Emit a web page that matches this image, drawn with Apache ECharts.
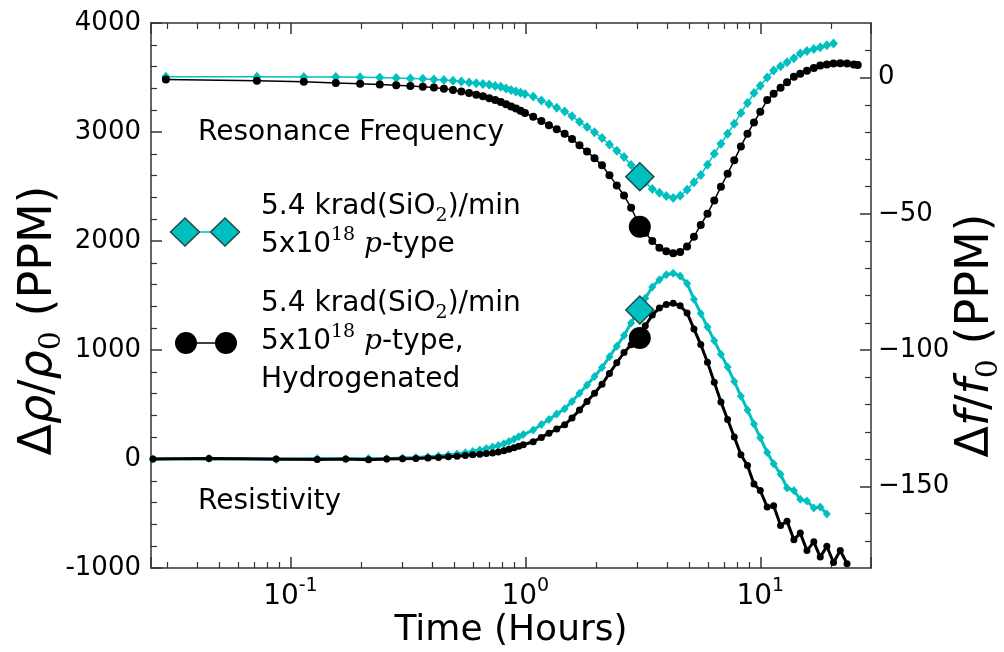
<!DOCTYPE html>
<html><head><meta charset="utf-8">
<script src="https://cdn.jsdelivr.net/npm/echarts@6/dist/echarts.min.js"></script>
<style>html,body{margin:0;padding:0;background:#fff}#c{width:1004px;height:652px}</style>
</head><body><div id="c"></div>
<script>
// ---------------- data ----------------
const freqTime = [0.0295, 0.072, 0.114, 0.156, 0.198, 0.240, 0.282, 0.324, 0.366, 0.408, 0.450, 0.492,
  0.534, 0.576, 0.618, 0.660, 0.702, 0.744, 0.786, 0.828, 0.870, 0.912, 0.954, 0.996,
  1.08, 1.17, 1.26, 1.36, 1.47, 1.58, 1.70, 1.83, 1.97, 2.12, 2.28, 2.45, 2.63, 2.82, 3.02, 3.24,
  3.47, 3.72, 3.98, 4.26, 4.56, 4.88, 5.22, 5.58, 5.96, 6.37, 6.80, 7.26, 7.75, 8.27, 8.82, 9.40,
  10.0, 10.7, 11.4, 12.2, 13.0, 13.9, 14.8, 15.8, 16.9, 18.0, 19.2, 20.5, 21.9, 23.4, 25.0, 26.0];
// Resonance frequency, 5.4 krad(SiO2)/min, p-type (right axis, PPM)
const freqCyan = [0.3, 0.3, 0.2, 0.15, 0.1, 0.0, -0.2, -0.35, -0.5, -0.7, -0.9, -1.2,
  -1.5, -1.8, -2.1, -2.4, -2.7, -3.1, -3.4, -4.0, -4.6, -5.1, -5.6, -6.1,
  -7.0, -8.4, -9.7, -11.1, -12.5, -14.2, -16.2, -18.2, -20.1, -22.2, -24.6, -26.9, -29.2, -32.1, -35.4, -38.4,
  -40.9, -42.3, -43.5, -44.2, -43.4, -41.2, -38.4, -35.8, -32.0, -28.0, -24.3, -20.6, -17.0, -13.0, -9.4, -5.7,
  -3.0, 0.0, 2.6, 4.1, 5.6, 7.1, 8.8, 9.7, 10.5, 11.1, 11.8, 12.5];
// Resonance frequency, hydrogenated (right axis, PPM)
const freqBlack = [-0.7, -1.2, -1.6, -2.0, -2.3, -2.6, -2.85, -3.1, -3.4, -3.7, -4.1, -4.6,
  -5.1, -5.7, -6.3, -6.9, -7.6, -8.3, -9.0, -9.8, -10.6, -11.4, -12.2, -13.0,
  -14.4, -16.0, -17.5, -19.0, -20.6, -22.6, -24.9, -27.2, -29.6, -32.2, -35.9, -39.6, -43.3, -47.8, -53.2, -57.0,
  -60.0, -62.5, -63.8, -64.5, -64.0, -62.0, -58.4, -54.1, -50.0, -45.1, -40.1, -35.3, -30.4, -25.3, -20.6, -16.5,
  -12.6, -8.3, -6.0, -3.8, -1.7, 0.3, 1.4, 2.5, 3.5, 4.4, 4.8, 5.1, 5.2, 5.1, 4.8, 4.6];

const resTime = [0.026, 0.045, 0.087, 0.13, 0.172, 0.215, 0.257, 0.30, 0.342, 0.385, 0.427, 0.47,
  0.512, 0.555, 0.597, 0.64, 0.682, 0.725, 0.767, 0.81, 0.852, 0.895, 0.937, 0.98,
  1.08, 1.17, 1.26, 1.36, 1.47, 1.58, 1.70, 1.83, 1.97, 2.12, 2.28, 2.45, 2.63, 2.82, 3.02, 3.24,
  3.47, 3.72, 3.98, 4.26, 4.56, 4.88, 5.22, 5.58, 5.96, 6.37, 6.80, 7.26, 7.75, 8.27, 8.82, 9.40,
  10.0, 10.7, 11.4, 12.2, 13.0, 13.9, 14.8, 15.8, 16.9, 18.0, 19.2, 20.5, 21.9, 23.4];
// Resistivity, 5.4 krad(SiO2)/min, p-type (left axis, PPM)
const resCyan = [0, 5, -4, 5, 0, 5, 3, 9, 14, 20, 27, 37,
  47, 58, 68, 82, 96, 110, 123, 141, 160, 182, 203, 224,
  265, 316, 363, 413, 462, 528, 603, 680, 757, 839, 939, 1035, 1133, 1248, 1363, 1474,
  1578, 1645, 1690, 1704, 1680, 1610, 1466, 1335, 1210, 1086, 962, 843, 712, 576, 450, 320,
  194, 60, -43, -140, -265, -290, -370, -385, -450, -440, -505];
// Resistivity, hydrogenated (left axis, PPM)
const resBlack = [0, 5, 0, -5, 0, -8, 0, 3, 5, 9, 14, 20,
  26, 32, 38, 44, 50, 56, 64, 75, 89, 104, 117, 131,
  158, 198, 236, 275, 314, 376, 450, 527, 603, 685, 785, 883, 977, 1048, 1120, 1222,
  1320, 1385, 1418, 1428, 1405, 1340, 1193, 1050, 887, 705, 524, 363, 202, 39, -60, -230,
  -290, -440, -430, -610, -570, -740, -680, -840, -760, -900, -800, -950, -840, -960];

// large highlighted markers (cyan, black)
const markTime = 3.07;
const markFreq = [-36.4, -54.8];
const markRes = [1367, 1110];

// axes
const xRange = [0.0255, 29.6];
const xMajorTicks = [0.1, 1, 10];
const xTickExponents = ['-1', '0', '1'];
const leftRange = [-1000, 4000];
const rightRange = [-180, 20];
const rightMajorTicks = [0, -50, -100, -150];
const rightMinorTicks = [10, -10, -20, -30, -40, -60, -70, -80, -90, -110, -120, -130, -140, -160, -170];

// ---------------- chart ----------------
const CYAN = '#00BFBF';
const EDGE = '#1d4a4a';
const FONT = 'DejaVu Sans';
const AX = '#333';
const pair = (t, v) => v.map((y, i) => [t[i], y]);

const chart = echarts.init(document.getElementById('c'), null, {renderer: 'canvas'});

const baseX = {
  type: 'log', logBase: 10, min: xRange[0], max: xRange[1], gridIndex: 0,
  nameMoveOverlap: false,
  axisLine: {show: true, onZero: false, lineStyle: {color: AX, width: 1.5}},
  axisTick: {show: true, inside: true, length: 11, lineStyle: {color: AX, width: 1.5}},
  minorTick: {show: true, splitNumber: 9, length: 6, lineStyle: {color: AX, width: 1.2}},
  splitLine: {show: false}, minorSplitLine: {show: false}
};

const nameRich = {
  i: {fontStyle: 'italic', fontSize: 46, lineHeight: 56, fontFamily: FONT},
  s: {fontSize: 30, lineHeight: 30, verticalAlign: 'bottom', fontFamily: 'DejaVu Serif'}
};

const option = {
  animation: false,
  backgroundColor: '#fff',
  textStyle: {fontFamily: FONT},
  grid: {left: 151, right: 133, top: 23, bottom: 84, containLabel: false, outerBoundsMode: 'none'},
  xAxis: [
    Object.assign({}, baseX, {
      position: 'bottom',
      axisLabel: {
        margin: 9, color: '#000', fontFamily: FONT, fontSize: 28, lineHeight: 40,
        formatter: function (v) {
          const i = xMajorTicks.findIndex(m => Math.abs(m - v) / m < 1e-6);
          return i >= 0 ? '10{sup|' + xTickExponents[i] + '}' : '';
        },
        rich: {sup: {fontSize: 19, lineHeight: 22, verticalAlign: 'top', fontFamily: FONT, color: '#000'}}
      },
      name: 'Time (Hours)', nameLocation: 'middle', nameGap: 45,
      nameTextStyle: {fontFamily: FONT, fontSize: 36, color: '#000'}
    }),
    Object.assign({}, baseX, {position: 'top', axisLabel: {show: false}})
  ],
  yAxis: [
    {
      type: 'value', position: 'left', min: leftRange[0], max: leftRange[1], interval: 1000,
      nameMoveOverlap: false,
      axisLine: {show: true, onZero: false, lineStyle: {color: AX, width: 1.5}},
      axisTick: {show: true, inside: true, length: 11, lineStyle: {color: AX, width: 1.5}},
      minorTick: {show: true, splitNumber: 5, length: 6, lineStyle: {color: AX, width: 1.2}},
      splitLine: {show: false},
      axisLabel: {margin: 10, color: '#000', fontFamily: FONT, fontSize: 26, formatter: v => String(v)},
      name: '\u0394{i|\u03c1}/{i|\u03c1}{s|0} (PPM)', nameLocation: 'middle', nameRotate: 90, nameGap: 84,
      nameTextStyle: {fontFamily: FONT, fontSize: 46, color: '#000', lineHeight: 56, padding: [0, 50, 0, 0], rich: nameRich}
    },
    {
      type: 'value', position: 'right', min: rightRange[0], max: rightRange[1],
      nameMoveOverlap: false,
      axisLine: {show: true, onZero: false, lineStyle: {color: AX, width: 1.5}},
      axisTick: {show: true, inside: true, length: 11, customValues: rightMajorTicks, lineStyle: {color: AX, width: 1.5}},
      splitLine: {show: false},
      axisLabel: {margin: 7, color: '#000', fontFamily: FONT, fontSize: 26, customValues: rightMajorTicks,
        formatter: v => String(v).replace('-', '\u2212')},
      name: '\u0394{i|f}/{i|f}{s|0} (PPM)', nameLocation: 'middle', nameRotate: 90, nameGap: 77,
      nameTextStyle: {fontFamily: FONT, fontSize: 46, color: '#000', lineHeight: 56, padding: [0, 80, 0, 0], rich: nameRich}
    },
    {
      type: 'value', position: 'right', min: rightRange[0], max: rightRange[1],
      axisLine: {show: false, onZero: false},
      axisTick: {show: true, inside: true, length: 6, customValues: rightMinorTicks, lineStyle: {color: AX, width: 1.2}},
      axisLabel: {show: false}, splitLine: {show: false}
    }
  ],
  series: [
    {name: 'freqCyan', type: 'line', xAxisIndex: 0, yAxisIndex: 1, data: pair(freqTime, freqCyan),
      symbol: 'diamond', symbolSize: [9, 10], showSymbol: true,
      lineStyle: {color: CYAN, width: 1.5}, itemStyle: {color: CYAN, opacity: 1}, z: 2},
    {name: 'freqBlack', type: 'line', xAxisIndex: 0, yAxisIndex: 1, data: pair(freqTime, freqBlack),
      symbol: 'circle', symbolSize: 8, showSymbol: true,
      lineStyle: {color: '#000', width: 1.5}, itemStyle: {color: '#000', opacity: 1}, z: 3},
    {name: 'resCyan', type: 'line', xAxisIndex: 0, yAxisIndex: 0, data: pair(resTime, resCyan),
      symbol: 'diamond', symbolSize: [8, 9], showSymbol: true,
      lineStyle: {color: CYAN, width: 3}, itemStyle: {color: CYAN, opacity: 1}, z: 2},
    {name: 'resBlack', type: 'line', xAxisIndex: 0, yAxisIndex: 0, data: pair(resTime, resBlack),
      symbol: 'circle', symbolSize: 7, showSymbol: true,
      lineStyle: {color: '#000', width: 3}, itemStyle: {color: '#000', opacity: 1}, z: 3},
    {name: 'markFreqCyan', type: 'scatter', xAxisIndex: 0, yAxisIndex: 1, data: [[markTime, markFreq[0]]],
      symbol: 'diamond', symbolSize: [28, 28], itemStyle: {color: CYAN, opacity: 1, borderColor: EDGE, borderWidth: 1.5}, z: 5},
    {name: 'markFreqBlack', type: 'scatter', xAxisIndex: 0, yAxisIndex: 1, data: [[markTime, markFreq[1]]],
      symbol: 'circle', symbolSize: 22, itemStyle: {color: '#000', opacity: 1}, z: 5},
    {name: 'markResCyan', type: 'scatter', xAxisIndex: 0, yAxisIndex: 0, data: [[markTime, markRes[0]]],
      symbol: 'diamond', symbolSize: [28, 28], itemStyle: {color: CYAN, opacity: 1, borderColor: EDGE, borderWidth: 1.5}, z: 5},
    {name: 'markResBlack', type: 'scatter', xAxisIndex: 0, yAxisIndex: 0, data: [[markTime, markRes[1]]],
      symbol: 'circle', symbolSize: 22, itemStyle: {color: '#000', opacity: 1}, z: 5}
  ],
  graphic: (function () {
    const txt = {fontFamily: FONT, fontSize: 28, fill: '#000', lineHeight: 38, verticalAlign: 'middle', align: 'left'};
    const rich = {
      sub: {fontSize: 19, lineHeight: 20, verticalAlign: 'bottom', fontFamily: 'DejaVu Serif'},
      sup: {fontSize: 19, lineHeight: 20, verticalAlign: 'top', fontFamily: 'DejaVu Serif'},
      it: {fontSize: 28, fontStyle: 'italic', fontFamily: 'DejaVu Serif'}
    };
    const t = (x, y, s) => ({type: 'text', x: x, y: y, z: 10, style: Object.assign({}, txt, {text: s, rich: rich})});
    const diamond = (cx, cy) => ({type: 'polygon', z: 11,
      shape: {points: [[cx, cy - 14], [cx + 14.5, cy], [cx, cy + 14], [cx - 14.5, cy]]},
      style: {fill: CYAN, stroke: EDGE, lineWidth: 1.5}});
    const dot = (cx, cy) => ({type: 'circle', z: 11, shape: {cx: cx, cy: cy, r: 11}, style: {fill: '#000'}});
    return [
      t(198, 133, 'Resonance Frequency'),
      t(198, 502, 'Resistivity'),
      {type: 'line', z: 10, shape: {x1: 185, y1: 232, x2: 225, y2: 232}, style: {stroke: CYAN, lineWidth: 1.5}},
      diamond(185, 232), diamond(225, 232),
      t(261, 207, '5.4 krad(SiO{sub|2})/min'),
      t(261, 245, '5x10{sup|18} {it|p}-type'),
      {type: 'line', z: 10, shape: {x1: 186, y1: 343, x2: 226, y2: 343}, style: {stroke: '#000', lineWidth: 1.5}},
      dot(186, 343), dot(226, 343),
      t(261, 304, '5.4 krad(SiO{sub|2})/min'),
      t(261, 342, '5x10{sup|18} {it|p}-type,'),
      t(261, 380, 'Hydrogenated')
    ];
  })()
};
chart.setOption(option);
</script>
</body></html>
